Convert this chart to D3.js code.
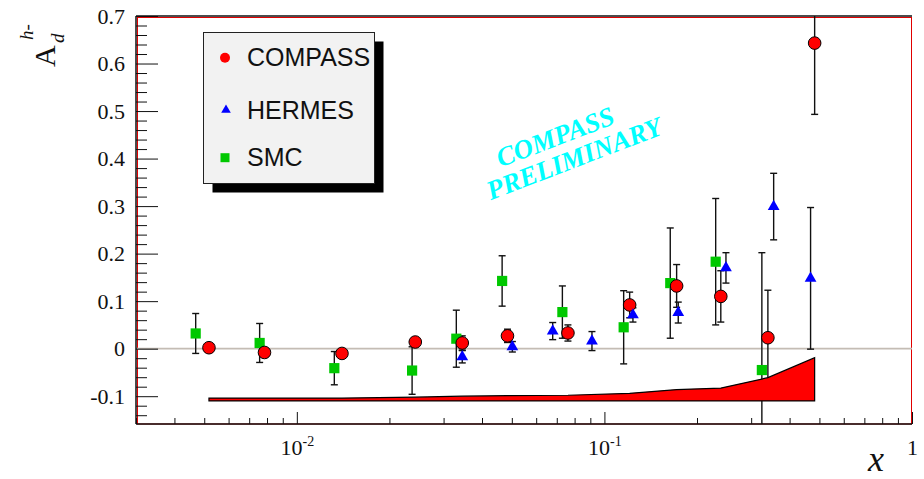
<!DOCTYPE html>
<html><head><meta charset="utf-8">
<script src="https://cdn.jsdelivr.net/npm/d3@7"></script>
<style>body{margin:0;background:#fff}svg{display:block}</style>
</head><body>
<svg id="c" width="924" height="479"></svg>
<script>
// COMPASS deuteron asymmetry A_d^{h-} versus x
const compassX   = [0.00518, 0.00785, 0.01402, 0.02427, 0.0345, 0.0484, 0.0761, 0.1208, 0.1717, 0.239, 0.340, 0.4825];
const compassY   = [0.002, -0.008, -0.010, 0.014, 0.012, 0.027, 0.033, 0.092, 0.132, 0.110, 0.023, 0.643];
const compassErr = [0.005, 0.006, 0.006, 0.008, 0.015, 0.014, 0.017, 0.027, 0.045, 0.054, 0.100, 0.150];

// systematic error band (lower edge fixed, upper edge per COMPASS bin)
const bandLow = -0.11;
const bandTop = [-0.104, -0.104, -0.104, -0.102, -0.100, -0.099, -0.098, -0.094, -0.086, -0.083, -0.061, -0.019];

const hermesX   = [0.0345, 0.0502, 0.0679, 0.0911, 0.1238, 0.1738, 0.2484, 0.355, 0.468];
const hermesY   = [-0.017, 0.004, 0.037, 0.016, 0.071, 0.076, 0.170, 0.299, 0.148];
const hermesErr = [0.013, 0.011, 0.018, 0.020, 0.015, 0.022, 0.032, 0.070, 0.149];

const smcX   = [0.00469, 0.00757, 0.01324, 0.0237, 0.0330, 0.0465, 0.0730, 0.1155, 0.1637, 0.230, 0.325];
const smcY   = [0.032, 0.012, -0.041, -0.046, 0.021, 0.1425, 0.077, 0.045, 0.138, 0.183, -0.045];
const smcErr = [0.042, 0.041, 0.035, 0.050, 0.060, 0.053, 0.055, 0.077, 0.116, 0.133, 0.247];

const yMajor = [-0.1, 0, 0.1, 0.2, 0.3, 0.4, 0.5, 0.6, 0.7];
const xMajor = [0.01, 0.1, 1];
const xMajorLabels = [["10", "-2"], ["10", "-1"], ["1", ""]];
const legendNames = ["COMPASS", "HERMES", "SMC"];

const svg = d3.select("#c");
const L = 136, R = 912, T = 16, B = 424;
const x = d3.scaleLog().domain([0.003, 1]).range([L, R]);
const y = d3.scaleLinear().domain([-0.1585, 0.7]).range([B, T]);

svg.append("defs").append("clipPath").attr("id", "plot")
  .append("rect").attr("x", L).attr("y", T).attr("width", R - L).attr("height", B - T);

// frame
svg.append("rect").attr("x", L + 1.5).attr("y", T + 1.5)
  .attr("width", R - L - 2).attr("height", B - T - 1.5)
  .attr("fill", "none").attr("stroke", "#e00000").attr("stroke-width", 1);

const plot = svg.append("g").attr("clip-path", "url(#plot)");

// zero line
plot.append("line").attr("x1", L).attr("x2", R).attr("y1", y(0)).attr("y2", y(0))
  .attr("stroke", "#c4bcb4").attr("stroke-width", 1.6);

// error bars
function errorBars(xs, ys, es) {
  const g = plot.append("g").attr("stroke", "#111").attr("stroke-width", 1.4).attr("fill", "none");
  xs.forEach((xv, i) => {
    const px = x(xv), lo = y(ys[i] - es[i]), hi = y(ys[i] + es[i]);
    g.append("line").attr("x1", px).attr("x2", px).attr("y1", lo).attr("y2", hi);
    g.append("line").attr("x1", px - 3.5).attr("x2", px + 3.5).attr("y1", lo).attr("y2", lo);
    g.append("line").attr("x1", px - 3.5).attr("x2", px + 3.5).attr("y1", hi).attr("y2", hi);
  });
}
errorBars(smcX, smcY, smcErr);
errorBars(compassX, compassY, compassErr);
errorBars(hermesX, hermesY, hermesErr);

// systematic band
const area = d3.area().x((d, i) => x(compassX[i])).y0(() => y(bandLow)).y1(d => y(d));
plot.append("path").datum(bandTop).attr("d", area)
  .attr("fill", "#ff0000").attr("stroke", "#000").attr("stroke-width", 1.2);

// markers
plot.append("g").selectAll("path").data(smcX).join("path")
  .attr("d", d3.symbol(d3.symbolSquare, 104))
  .attr("transform", (d, i) => `translate(${x(d)},${y(smcY[i])})`)
  .attr("fill", "#00c800");
plot.append("g").selectAll("circle").data(compassX).join("circle")
  .attr("cx", d => x(d)).attr("cy", (d, i) => y(compassY[i])).attr("r", 6.3)
  .attr("fill", "#ff0000").attr("stroke", "#000").attr("stroke-width", 1);
plot.append("g").selectAll("path").data(hermesX).join("path")
  .attr("d", d3.symbol(d3.symbolTriangle, 60))
  .attr("transform", (d, i) => `translate(${x(d)},${y(hermesY[i])})`)
  .attr("fill", "#0000ff");

// y axis
const yMinor = d3.range(-0.14, 0.701, 0.02).map(v => +v.toFixed(2)).filter(v => !yMajor.some(m => Math.abs(m - v) < 1e-6));
svg.append("g").attr("transform", `translate(${L},0)`)
  .call(d3.axisLeft(y).tickValues(yMinor).tickSize(-11).tickFormat(""))
  .call(g => g.select(".domain").remove())
  .selectAll("line").attr("stroke", "#111");
const yAx = svg.append("g").attr("transform", `translate(${L},0)`)
  .call(d3.axisLeft(y).tickValues(yMajor).tickSize(-22).tickPadding(11)
    .tickFormat(d => d === 0 ? "0" : d.toFixed(1)));
yAx.select(".domain").remove();
yAx.selectAll("line").attr("stroke", "#111");
yAx.selectAll("text").attr("font-family", "Liberation Serif, Times New Roman, serif")
  .attr("font-size", 22).attr("fill", "#111");

// x axis
const xMinor = [];
[0.001, 0.01, 0.1].forEach(dec => { for (let k = 2; k <= 9; k++) { const v = k * dec; if (v >= 0.003 && v < 1) xMinor.push(v); } });
svg.append("g").attr("transform", `translate(0,${B})`)
  .call(d3.axisBottom(x).tickValues(xMinor).tickSize(-6).tickFormat(""))
  .call(g => g.select(".domain").remove())
  .selectAll("line").attr("stroke", "#111");
const xAx = svg.append("g").attr("transform", `translate(0,${B})`)
  .call(d3.axisBottom(x).tickValues(xMajor).tickSize(-12).tickFormat(""));
xAx.select(".domain").remove();
xAx.selectAll("line").attr("stroke", "#111");
xAx.selectAll(".tick").append("text")
  .attr("y", 31).attr("fill", "#111").attr("text-anchor", "middle")
  .attr("font-family", "Liberation Serif, Times New Roman, serif").attr("font-size", 22)
  .each(function(d, i) {
    const t = d3.select(this);
    const [base, sup] = xMajorLabels[i];
    t.append("tspan").text(base);
    if (sup) t.append("tspan").attr("font-size", 14).attr("dy", -9).text(sup);
  });

// axis lines
svg.append("g").attr("stroke", "#111").attr("stroke-width", 1.5)
  .call(g => g.append("line").attr("x1", L).attr("x2", L).attr("y1", T).attr("y2", B))
  .call(g => g.append("line").attr("x1", L).attr("x2", R).attr("y1", B).attr("y2", B))
  .call(g => g.append("line").attr("x1", L).attr("x2", R).attr("y1", T).attr("y2", T));

// axis titles
svg.append("text").attr("x", 868).attr("y", 471)
  .attr("font-family", "Liberation Serif, Times New Roman, serif").attr("font-style", "italic")
  .attr("font-size", 36).attr("fill", "#111").text("x");
const yt = svg.append("g").attr("transform", "translate(55,67) rotate(-90)")
  .attr("font-family", "Liberation Serif, Times New Roman, serif").attr("fill", "#111");
yt.append("text").attr("x", 0).attr("y", 0).attr("font-size", 30).text("A");
yt.append("text").attr("x", 27).attr("y", -22).attr("font-size", 19).attr("font-style", "italic").text("h-");
yt.append("text").attr("x", 24).attr("y", 9).attr("font-size", 19).attr("font-style", "italic").text("d");

// preliminary stamp
const stamp = svg.append("g").attr("transform", "translate(565,146) rotate(-21)")
  .attr("font-family", "Liberation Serif, Times New Roman, serif").attr("font-weight", "bold")
  .attr("font-style", "italic").attr("font-size", 27).attr("fill", "#00ffff").attr("text-anchor", "middle");
stamp.append("text").attr("x", -6).attr("y", -3).text("COMPASS");
stamp.append("text").attr("x", 4).attr("y", 24).text("PRELIMINARY");

// legend
const lg = svg.append("g");
lg.append("rect").attr("x", 212.5).attr("y", 41.5).attr("width", 171).attr("height", 151).attr("fill", "#000");
lg.append("rect").attr("x", 203.5).attr("y", 32.5).attr("width", 171).attr("height", 151)
  .attr("fill", "#f2f2f2").attr("stroke", "#222").attr("stroke-width", 1);
const rows = [57.7, 110, 157.7];
lg.append("circle").attr("cx", 225).attr("cy", rows[0]).attr("r", 5).attr("fill", "#ff0000");
lg.append("path").attr("d", d3.symbol(d3.symbolTriangle, 40)).attr("transform", `translate(226,${rows[1]})`).attr("fill", "#0000ff");
lg.append("path").attr("d", d3.symbol(d3.symbolSquare, 81)).attr("transform", `translate(225,${rows[2]})`).attr("fill", "#00c800");
lg.selectAll("text.name").data(legendNames).join("text").attr("class", "name")
  .attr("x", 247).attr("y", (d, i) => rows[i] + 8.5)
  .attr("font-family", "Liberation Sans, Arial, sans-serif").attr("font-size", 25).attr("fill", "#111")
  .text(d => d);
</script>
</body></html>
